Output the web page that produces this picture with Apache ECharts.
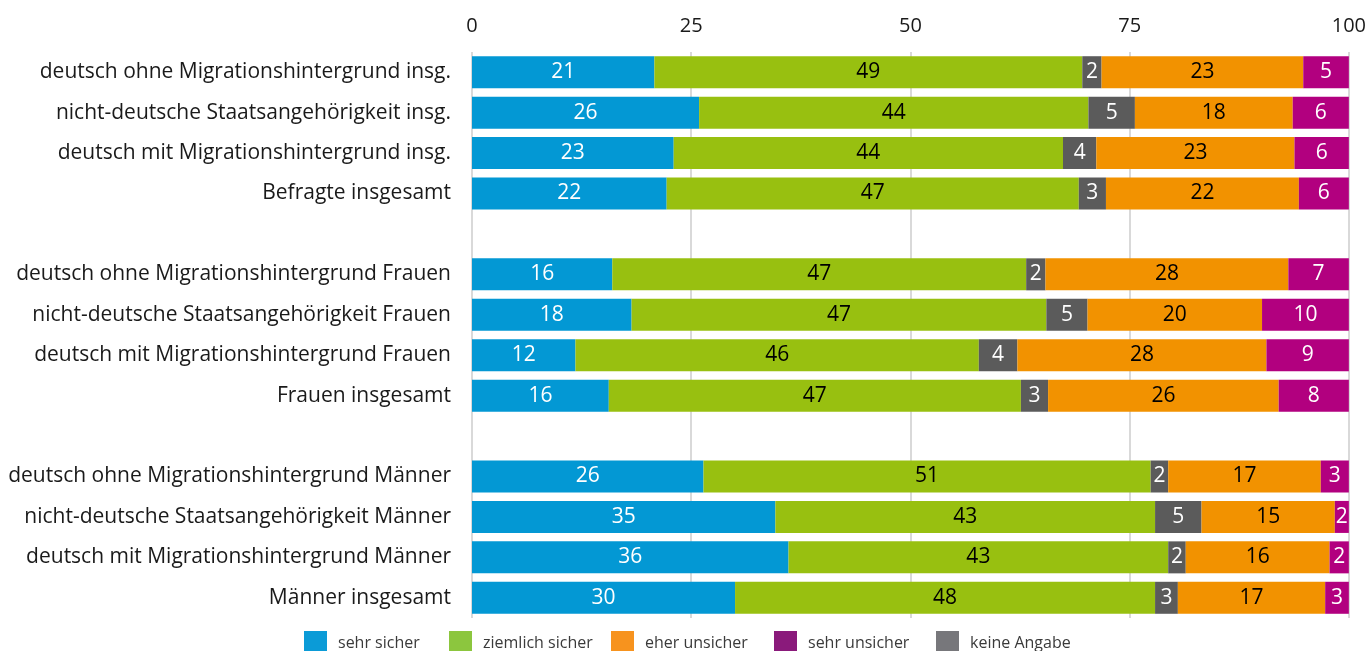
<!DOCTYPE html>
<html>
<head>
<meta charset="utf-8">
<script src="https://cdn.jsdelivr.net/npm/echarts@6/dist/echarts.min.js"></script>
<style>
html,body{margin:0;padding:0;background:#fff;}
#chart{width:1369px;height:651px;}
</style>
</head>
<body>
<div id="chart"></div>
<script>
const categories = [
  "deutsch ohne Migrationshintergrund insg.",
  "nicht-deutsche Staatsangehörigkeit insg.",
  "deutsch mit Migrationshintergrund insg.",
  "Befragte insgesamt",
  "",
  "deutsch ohne Migrationshintergrund Frauen",
  "nicht-deutsche Staatsangehörigkeit Frauen",
  "deutsch mit Migrationshintergrund Frauen",
  "Frauen insgesamt",
  " ",
  "deutsch ohne Migrationshintergrund Männer",
  "nicht-deutsche Staatsangehörigkeit Männer",
  "deutsch mit Migrationshintergrund Männer",
  "Männer insgesamt"
];
const tickValues = [0, 25, 50, 75, 100];
const sehrSicher     = [20.8, 25.9, 23.0, 22.2, null, 16.0, 18.2, 11.8, 15.6, null, 26.4, 34.6, 36.1, 30.0];
const ziemlichSicher = [48.8, 44.4, 44.4, 47.0, null, 47.2, 47.3, 46.0, 47.0, null, 51.0, 43.3, 43.3, 47.9];
const keineAngabe    = [2.2, 5.3, 3.8, 3.1, null, 2.2, 4.7, 4.4, 3.1, null, 2.0, 5.3, 2.0, 2.6];
const eherUnsicher   = [23.0, 18.0, 22.6, 22.0, null, 27.7, 19.9, 28.4, 26.3, null, 17.4, 15.2, 16.4, 16.8];
const sehrUnsicher   = [5.2, 6.4, 6.2, 5.7, null, 6.9, 9.9, 9.4, 8.0, null, 3.2, 1.6, 2.2, 2.7];

const FONT = "'Open Sans', 'Noto Sans', sans-serif";

const seriesDefs = [
  {name: "sehr sicher", data: sehrSicher, color: "#0398d4", text: "#ffffff"},
  {name: "ziemlich sicher", data: ziemlichSicher, color: "#98c010", text: "#000000"},
  {name: "keine Angabe", data: keineAngabe, color: "#5b5b5b", text: "#ffffff"},
  {name: "eher unsicher", data: eherUnsicher, color: "#f29200", text: "#000000"},
  {name: "sehr unsicher", data: sehrUnsicher, color: "#b2007f", text: "#ffffff"}
];

const legendDefs = [
  {name: "sehr sicher", color: "#0b9bd7", left: 304},
  {name: "ziemlich sicher", color: "#8cc63e", left: 449},
  {name: "eher unsicher", color: "#f7931e", left: 611},
  {name: "sehr unsicher", color: "#8a1a7b", left: 774},
  {name: "keine Angabe", color: "#77777b", left: 936}
];

const chart = echarts.init(document.getElementById('chart'), null, {renderer: 'canvas'});

const option = {
  animation: false,
  backgroundColor: '#ffffff',
  textStyle: {fontFamily: FONT},
  grid: {left: 472, right: 19, top: 52, height: 566, containLabel: false},
  legend: legendDefs.map(l => ({
    data: [{name: l.name, icon: 'rect', itemStyle: {color: l.color}}],
    left: l.left,
    top: 631,
    itemWidth: 23,
    itemHeight: 24,
    itemGap: 0,
    padding: 0,
    selectedMode: false,
    textStyle: {fontFamily: FONT, fontSize: 16, color: '#3a3a3a', padding: [0, 0, 0, 6]}
  })),
  xAxis: {
    type: 'value',
    position: 'top',
    min: tickValues[0],
    max: tickValues[tickValues.length - 1],
    interval: 25,
    axisLine: {show: false},
    axisTick: {show: false},
    axisLabel: {fontFamily: FONT, fontSize: 20, color: '#1a1a1a', margin: 16},
    splitLine: {show: true, lineStyle: {color: '#d9d9d9', width: 2}}
  },
  yAxis: {
    type: 'category',
    data: categories,
    inverse: true,
    axisLine: {show: false},
    axisTick: {show: false},
    axisLabel: {fontFamily: FONT, fontSize: 21, color: '#1a1a1a', margin: 21}
  },
  series: seriesDefs.map(s => ({
    name: s.name,
    type: 'bar',
    stack: 'total',
    barWidth: 32,
    data: s.data.map(v => v == null ? '-' : v),
    itemStyle: {color: s.color},
    label: {
      show: true,
      position: 'inside',
      fontFamily: FONT,
      fontSize: 21,
      color: s.text,
      formatter: p => (typeof p.value === 'number' ? Math.round(p.value) : '')
    }
  }))
};
chart.setOption(option);
</script>
</body>
</html>
